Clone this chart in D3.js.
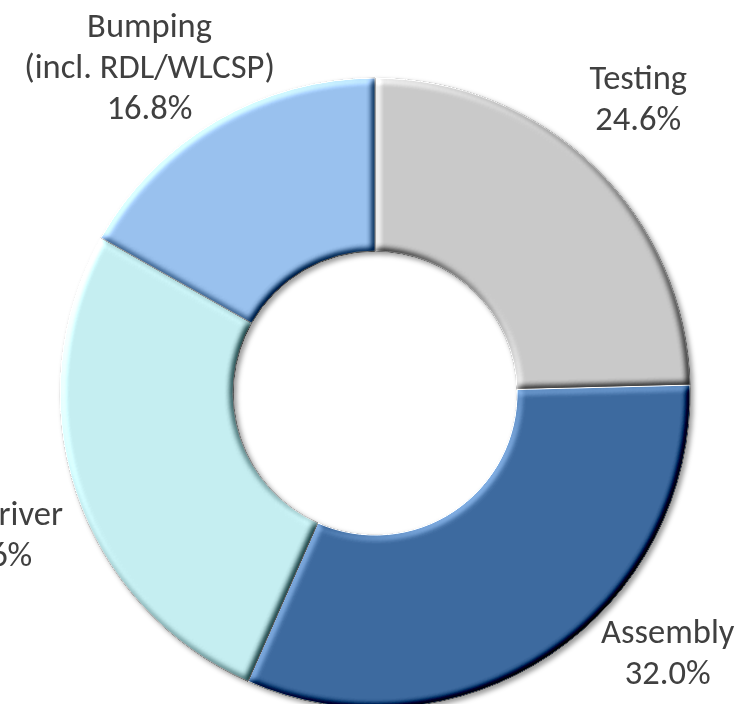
<!DOCTYPE html>
<html>
<head>
<meta charset="utf-8">
<script src="https://cdn.jsdelivr.net/npm/d3@7"></script>
<style>
html, body { margin: 0; padding: 0; background: #fff; overflow: hidden; }
</style>
</head>
<body>
<div id="chart"></div>
<script>
// slices, clockwise from 12 o'clock
var categories = ['Testing', 'Assembly', 'LCD Driver', 'Bumping\n(incl. RDL/WLCSP)'];
var shares = [24.6, 32.0, 26.6, 16.8];
var colors = ['#c9c9c9', '#3d6a9f', '#c5eef1', '#99c1ee'];
// label offsets from the mid-angle point (excel "outside end" placement)
var labelNudge = [[-16, -8], [70, -73], [-6, 16], [-24, 20]];

function DonutChart() {

    this.init = function() {
        this._config = {
            width: 749,
            height: 704,
            cx: 375,
            cy: 393,
            outer: 315,
            inner: 142,
            labelR: 400,
            lineH: 41,
            fontSize: 34.5
        };
        this._rootNode = undefined;
        this._initElements();
        this._initFilters();
        this._drawSlices();
        this._drawLabels();
    };

    this._initElements = function() {
        this._rootNode = d3.select('#chart')
            .append('svg')
            .attr('width', this._config.width)
            .attr('height', this._config.height);
    };

    this._initFilters = function() {
        var defs = this._rootNode.append('defs');

        var shadow = defs.append('filter').attr('id', 'shadow')
            .attr('x', '-10%').attr('y', '-10%').attr('width', '120%').attr('height', '120%');
        shadow.append('feDropShadow')
            .attr('dx', 3).attr('dy', 3).attr('stdDeviation', 2.5)
            .attr('flood-color', '#000').attr('flood-opacity', 0.4);

        var bevel = defs.append('filter').attr('id', 'bevel')
            .attr('x', '-5%').attr('y', '-5%').attr('width', '110%').attr('height', '110%')
            .attr('color-interpolation-filters', 'sRGB');
        bevel.append('feGaussianBlur').attr('in', 'SourceAlpha').attr('stdDeviation', 3.5).attr('result', 'blur');
        var lit = bevel.append('feDiffuseLighting')
            .attr('in', 'blur').attr('surfaceScale', 5).attr('diffuseConstant', 1)
            .attr('lighting-color', '#fff').attr('result', 'shade');
        lit.append('feDistantLight').attr('azimuth', 225).attr('elevation', 45);
        // flat areas keep their colour, edges get lighter / darker
        bevel.append('feComposite')
            .attr('in', 'SourceGraphic').attr('in2', 'shade').attr('operator', 'arithmetic')
            .attr('k1', 0).attr('k2', 1).attr('k3', 0.9).attr('k4', -0.9 * Math.SQRT1_2)
            .attr('result', 'lit');
        bevel.append('feComposite').attr('in', 'lit').attr('in2', 'SourceAlpha').attr('operator', 'in');
    };

    this._drawSlices = function() {
        var c = this._config;
        var pie = d3.pie().sort(null).value(function(d) { return d; });
        this._arcs = pie(shares);
        var arc = d3.arc().innerRadius(c.inner).outerRadius(c.outer);

        this._rootNode.append('g')
            .attr('transform', 'translate(' + c.cx + ',' + c.cy + ')')
            .attr('filter', 'url(#shadow)')
            .selectAll('path')
            .data(this._arcs)
            .enter().append('path')
            .attr('d', arc)
            .attr('fill', function(d, i) { return colors[i]; })
            .attr('stroke', '#fff')
            .attr('stroke-width', 1)
            .attr('filter', 'url(#bevel)');
    };

    this._drawLabels = function() {
        var c = this._config;
        var fmt = d3.format('.1f');
        var g = this._rootNode.append('g')
            .attr('font-family', 'Carlito, Calibri, Lato, sans-serif')
            .attr('font-size', c.fontSize)
            .attr('fill', '#404040')
            .attr('text-anchor', 'middle');

        this._arcs.forEach(function(d, i) {
            var mid = (d.startAngle + d.endAngle) / 2;
            var x = c.cx + c.labelR * Math.sin(mid) + labelNudge[i][0];
            var y = c.cy - c.labelR * Math.cos(mid) + labelNudge[i][1];
            var lines = categories[i].split('\n').concat([fmt(shares[i]) + '%']);
            var n = lines.length;
            var t = g.append('text');
            lines.forEach(function(line, k) {
                t.append('tspan')
                    .attr('x', x)
                    .attr('y', y + (k - (n - 1) / 2) * c.lineH + 11)
                    .text(line);
            });
        });
    };

    this.init();
}

function initApp() {
    if (typeof(window.donut) === 'undefined') {
        window.donut = new DonutChart();
    }
}
document.addEventListener('DOMContentLoaded', initApp);
</script>
</body>
</html>
